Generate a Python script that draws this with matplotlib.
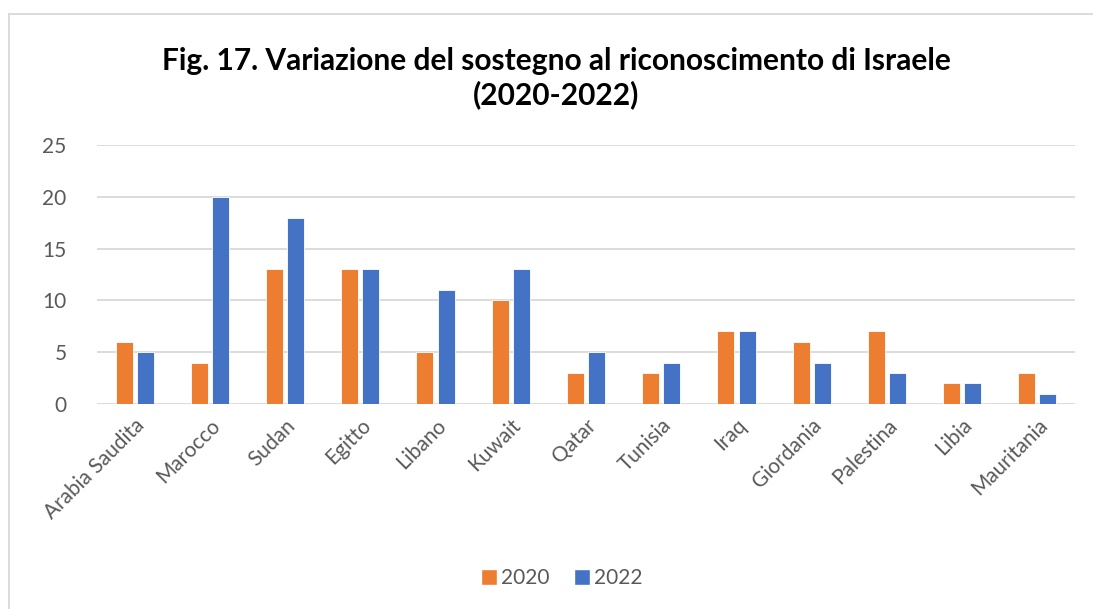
import matplotlib
matplotlib.use("Agg")
import matplotlib.pyplot as plt
import numpy as np
from matplotlib.lines import Line2D

countries = ["Arabia Saudita", "Marocco", "Sudan", "Egitto", "Libano", "Kuwait", "Qatar",
             "Tunisia", "Iraq", "Giordania", "Palestina", "Libia", "Mauritania"]
values_2020 = [6, 4, 13, 13, 5, 10, 3, 3, 7, 6, 7, 2, 3]
values_2022 = [5, 20, 18, 13, 11, 13, 5, 4, 7, 4, 3, 2, 1]
series_labels = ["2020", "2022"]
yticks = [0, 5, 10, 15, 20, 25]

plt.rcParams['font.family'] = ['Lato', 'DejaVu Sans']
orange = "#ED7D31"
blue = "#4472C4"
grey_text = "#595959"

fig = plt.figure(figsize=(10.93, 6.09), dpi=100)
ax = fig.add_axes([97 / 1093, 1 - 404 / 609, 978 / 1093, 259 / 609])

x = np.arange(len(countries))
w = 0.226
gap = 0.055
ax.bar(x - (w + gap) / 2, values_2020, width=w, color=orange, edgecolor="white", linewidth=0.6,
       label=series_labels[0], zorder=3)
ax.bar(x + (w + gap) / 2, values_2022, width=w, color=blue, edgecolor="white", linewidth=0.6,
       label=series_labels[1], zorder=3)

ax.set_xlim(-0.5, len(countries) - 0.5)
ax.set_ylim(0, 25)
ax.set_yticks(yticks)
ax.set_xticks(x)
ax.set_xticklabels(countries, rotation=45, ha="right", rotation_mode="anchor")
ax.tick_params(axis="both", length=0, labelsize=15, colors=grey_text)
ax.tick_params(axis="y", pad=22)
ax.tick_params(axis="x", pad=8)
ax.grid(axis="y", color="#d9d9d9", linewidth=1.3, zorder=0)
for s in ax.spines.values():
    s.set_visible(False)

fig.text(556 / 1093, 1 - 78 / 609, "Fig. 17. Variazione del sostegno al riconoscimento di Israele\n(2020-2022)",
         ha="center", va="center", fontsize=21.5, fontweight="bold", color="black", linespacing=1.2)

handles = [Line2D([0], [0], marker="s", color="w", markerfacecolor=orange, markersize=12, label="2020"),
           Line2D([0], [0], marker="s", color="w", markerfacecolor=blue, markersize=12, label="2022")]
leg = fig.legend(handles=handles, loc="center", bbox_to_anchor=(560 / 1093, 1 - 578 / 609), ncol=2,
                 frameon=False, fontsize=15, handletextpad=0.05, columnspacing=1.0, handlelength=1.1)
for t in leg.get_texts():
    t.set_color(grey_text)

# chart border
fig.add_artist(Line2D([8.5 / 1093, 8.5 / 1093], [0, 1 - 14 / 609], color="#d9d9d9", linewidth=1.3))
fig.add_artist(Line2D([8.5 / 1093, 1], [1 - 14 / 609, 1 - 14 / 609], color="#d9d9d9", linewidth=1.3))

fig.savefig("out.png", dpi=100)
